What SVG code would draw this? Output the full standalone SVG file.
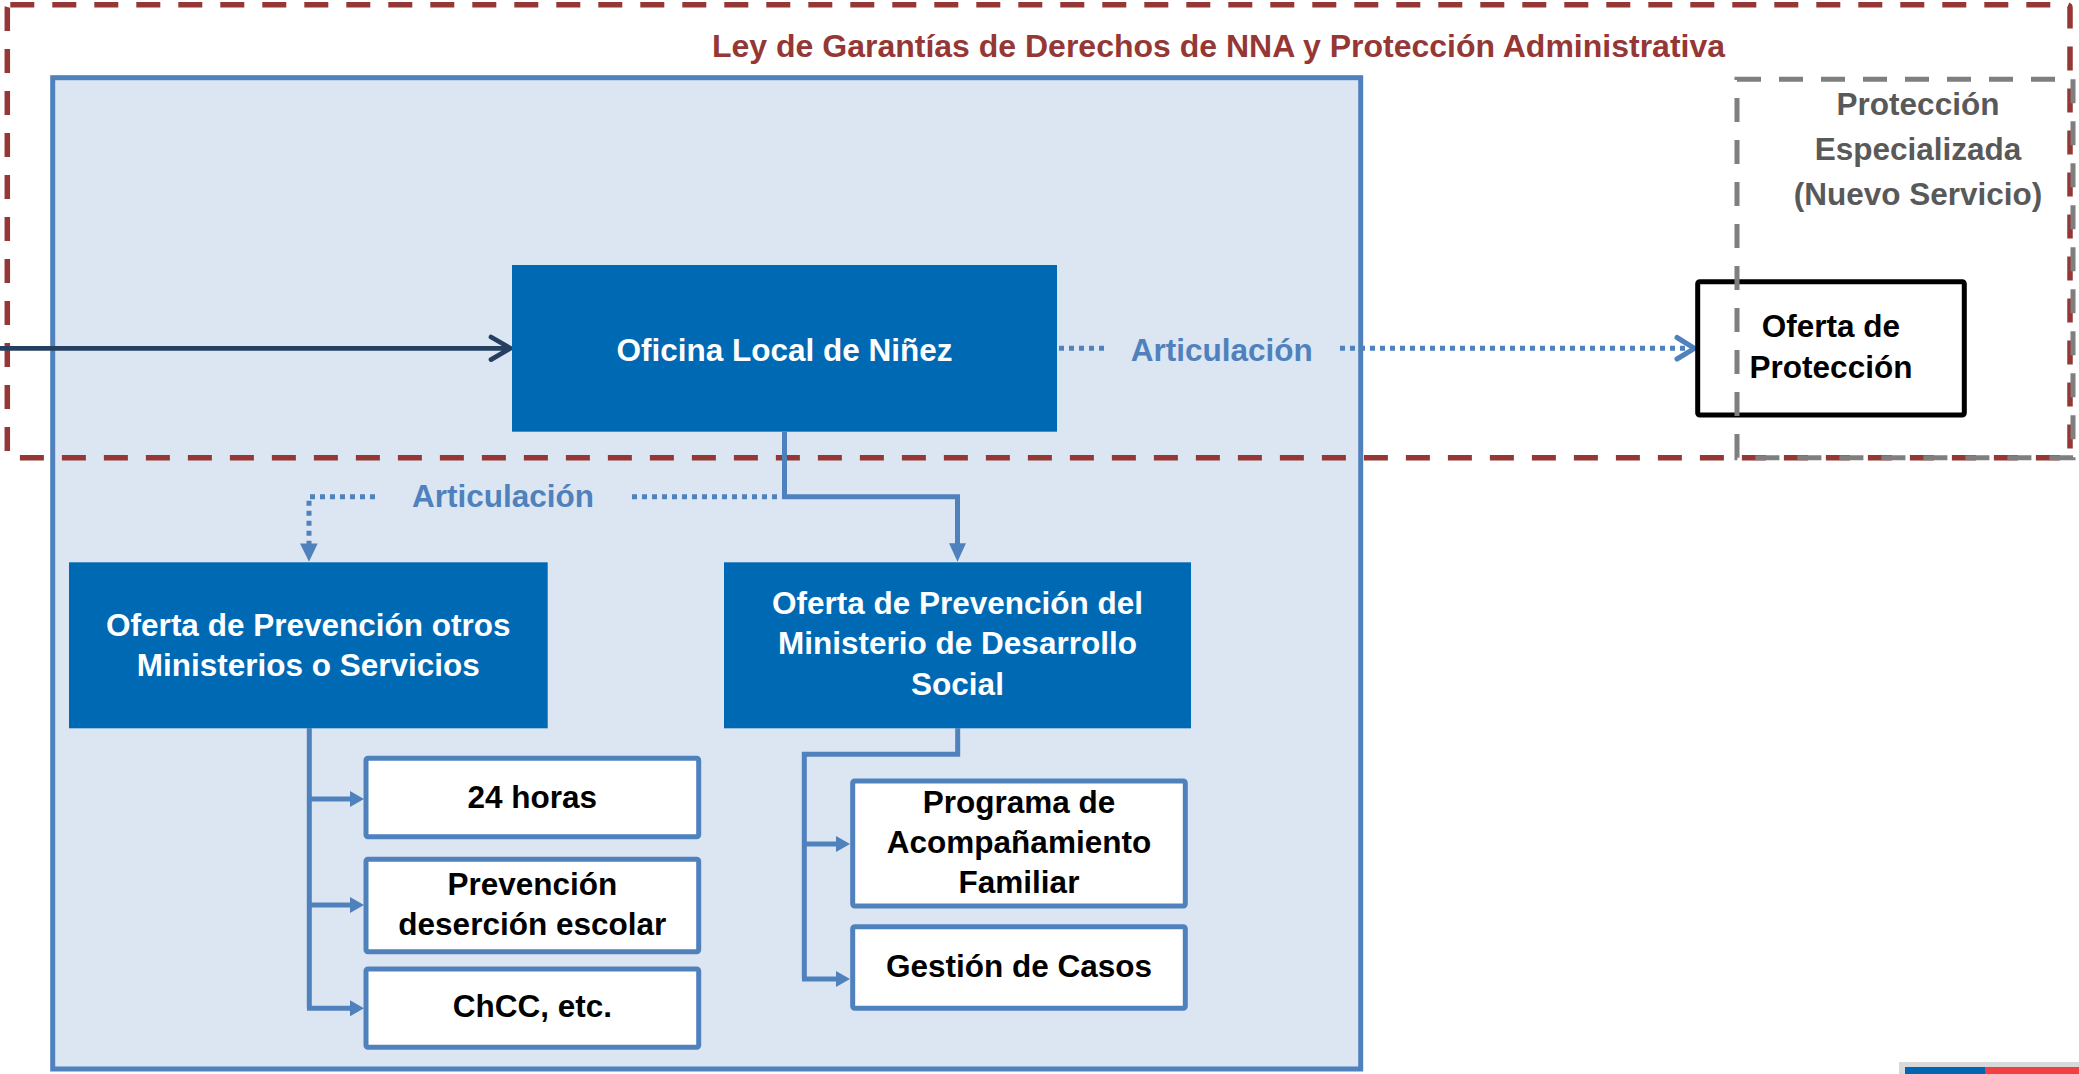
<svg xmlns="http://www.w3.org/2000/svg" width="2079" height="1074" viewBox="0 0 2079 1074">
<style>
text{font-family:"Liberation Sans",Arial,sans-serif;font-weight:bold;font-size:31.5px;text-anchor:middle}
.wt{fill:#FFFFFF}
.bt{fill:#000000}
.solid{fill:#0069B4;stroke:none}
.sub{fill:#FFFFFF;stroke:#4F81BD;stroke-width:5}
.conn{fill:none;stroke:#4F81BD;stroke-width:5}
.dot{fill:none;stroke:#4F81BD;stroke-width:5;stroke-dasharray:5 5}
</style>
<defs>
<marker id="tri" viewBox="0 0 18 18" refX="0" refY="9" markerWidth="18" markerHeight="18" markerUnits="userSpaceOnUse" orient="auto">
<path d="M0,0 L18,9 L0,18 z" fill="#4F81BD"/>
</marker>
<marker id="triS" viewBox="0 0 14 16" refX="0" refY="8" markerWidth="14" markerHeight="16" markerUnits="userSpaceOnUse" orient="auto">
<path d="M0,0 L14,8 L0,16 z" fill="#4F81BD"/>
</marker>
</defs>

<g id="prevention-area">
<rect x="52.7" y="77.7" width="1308" height="991.3" fill="#DCE6F2" stroke="#4F81BD" stroke-width="5"/>
</g>

<g id="ley-garantias">
<rect x="7.3" y="4.7" width="2062.7" height="453" rx="3" fill="none" stroke="#953735" stroke-width="5.5" stroke-dasharray="24 18"/>
<text x="1218.5" y="57" style="fill:#953735;font-size:32px">Ley de Garantías de Derechos de NNA y Protección Administrativa</text>
</g>

<g id="connectors">
<!-- incoming dark arrow -->
<line x1="0" y1="348.3" x2="509" y2="348.3" stroke="#243F60" stroke-width="4.7"/>
<polyline points="491,337 510.5,348.3 491,359.6" fill="none" stroke="#243F60" stroke-width="4.7" stroke-linecap="round" stroke-linejoin="round"/>
<!-- Articulación to Oferta de Protección -->
<line class="dot" x1="1059" y1="348.3" x2="1108" y2="348.3"/>
<line class="dot" x1="1340" y1="348.3" x2="1692" y2="348.3"/>
<polyline points="1677,337.5 1694.5,348.3 1677,359" fill="none" stroke="#4F81BD" stroke-width="5" stroke-linecap="round" stroke-linejoin="round"/>
<text x="1221.8" y="361" style="fill:#4F81BD">Articulación</text>
<!-- Articulación lower -->
<path class="dot" d="M375,496.7 L309,496.7 L309,544"/>
<path d="M300,543.5 L317.7,543.5 L309,561.7 z" fill="#4F81BD"/>
<line class="dot" x1="632" y1="496.7" x2="782" y2="496.7"/>
<text x="503" y="506.7" style="fill:#4F81BD">Articulación</text>
<!-- Oficina to MDS -->
<path class="conn" d="M784.5,432 L784.5,496.7 L957.5,496.7 L957.5,544"/>
<path d="M949,543.3 L966,543.3 L957.5,561.7 z" fill="#4F81BD"/>
<!-- otros ministerios branches -->
<path class="conn" d="M309.3,728.3 L309.3,1008.3"/>
<line class="conn" x1="307" y1="799" x2="350" y2="799" marker-end="url(#triS)"/>
<line class="conn" x1="307" y1="905" x2="350" y2="905" marker-end="url(#triS)"/>
<line class="conn" x1="307" y1="1008.3" x2="350" y2="1008.3" marker-end="url(#triS)"/>
<!-- MDS branches -->
<path class="conn" d="M957.7,728.3 L957.7,754.3 L804.3,754.3 L804.3,979"/>
<line class="conn" x1="802" y1="844" x2="836" y2="844" marker-end="url(#triS)"/>
<line class="conn" x1="802" y1="979" x2="836" y2="979" marker-end="url(#triS)"/>
</g>

<g id="oficina-local">
<rect class="solid" x="512" y="265" width="545" height="166.7"/>
<text class="wt" x="784.5" y="361">Oficina Local de Niñez</text>
</g>

<g id="oferta-otros">
<rect class="solid" x="69" y="562.3" width="478.7" height="166"/>
<text class="wt" x="308.3" y="635.7">Oferta de Prevención otros</text>
<text class="wt" x="308.3" y="675.7">Ministerios o Servicios</text>
</g>

<g id="oferta-mds">
<rect class="solid" x="724" y="562.3" width="467" height="166"/>
<text class="wt" x="957.5" y="614">Oferta de Prevención del</text>
<text class="wt" x="957.5" y="654.3">Ministerio de Desarrollo</text>
<text class="wt" x="957.5" y="695">Social</text>
</g>

<g id="n-24horas">
<rect class="sub" x="366" y="758.3" width="332.7" height="78.4" rx="2"/>
<text class="bt" x="532.3" y="807.7">24 horas</text>
</g>

<g id="n-desercion">
<rect class="sub" x="366" y="859.3" width="332.7" height="92.4" rx="2"/>
<text class="bt" x="532.3" y="895">Prevención</text>
<text class="bt" x="532.3" y="935">deserción escolar</text>
</g>

<g id="n-chcc">
<rect class="sub" x="366" y="969" width="332.7" height="78.3" rx="2"/>
<text class="bt" x="532.3" y="1017.3">ChCC, etc.</text>
</g>

<g id="n-acompanamiento">
<rect class="sub" x="852.7" y="781" width="332.6" height="125" rx="2"/>
<text class="bt" x="1019" y="813.3">Programa de</text>
<text class="bt" x="1019" y="853.3">Acompañamiento</text>
<text class="bt" x="1019" y="893.3">Familiar</text>
</g>

<g id="n-gestion">
<rect class="sub" x="852.7" y="926.7" width="332.6" height="81.6" rx="2"/>
<text class="bt" x="1019" y="976.7">Gestión de Casos</text>
</g>

<g id="oferta-proteccion">
<rect x="1697.7" y="281.7" width="266.6" height="133.3" rx="2" fill="#FFFFFF" stroke="#000000" stroke-width="5"/>
<text class="bt" x="1831" y="337.3">Oferta de</text>
<text class="bt" x="1831" y="378.3">Protección</text>
</g>

<g id="proteccion-especializada">
<rect x="1737" y="79.3" width="336" height="378.4" fill="none" stroke="#7F7F7F" stroke-width="5" stroke-dasharray="24 18"/>
<text x="1918" y="115" style="fill:#595959">Protección</text>
<text x="1918" y="160" style="fill:#595959">Especializada</text>
<text x="1918" y="205" style="fill:#595959">(Nuevo Servicio)</text>
</g>

<g id="footer-bar">
<rect x="1899" y="1062" width="180" height="12" fill="#D9D9D9"/>
<rect x="1905" y="1067" width="80" height="7" fill="#0066B3"/>
<rect x="1985" y="1067" width="94" height="7" fill="#EF4043"/>
</g>
</svg>
